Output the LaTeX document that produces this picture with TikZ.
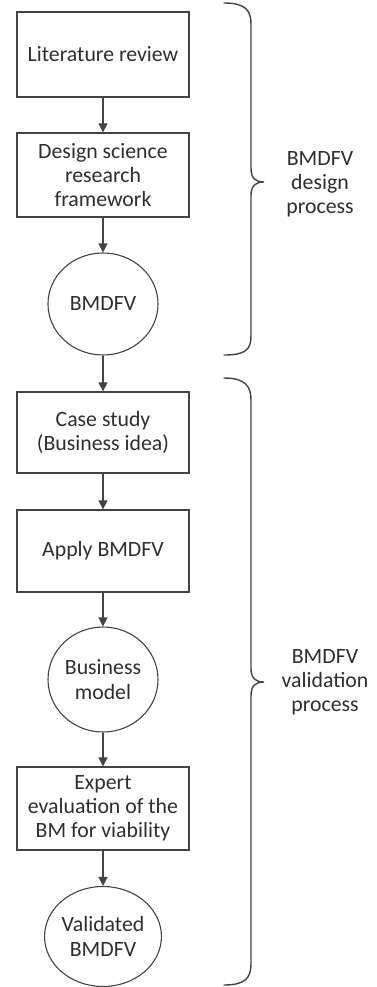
\documentclass[tikz,border=0pt]{standalone}
\usepackage{fontspec}
\setmainfont{Carlito}
\usetikzlibrary{arrows.meta,shapes.geometric}
\definecolor{linegray}{HTML}{434343}
\definecolor{textgray}{HTML}{2E2E2E}
\begin{document}
\begin{tikzpicture}[x=1pt,y=-1pt,
  every node/.style={font=\fontsize{21.8}{24.2}\selectfont, text=textgray, align=center},
  stepbox/.style={draw=linegray, line width=1.3pt, rectangle, minimum width=172pt, inner sep=0pt},
  result/.style={draw=linegray, line width=1.1pt, ellipse, inner sep=0pt},
  arr/.style={draw=linegray, line width=1.2pt, -{Triangle[width=9pt,length=9pt]}},
  brace/.style={draw=linegray, line width=1.4pt, line cap=round}]
  \useasboundingbox (0,0) rectangle (376,987);

  % flow nodes
  \node[stepbox, minimum height=85pt] (lit) at (103,54.5) {Literature review};
  \node[stepbox, minimum height=84pt] (dsr) at (103,175) {Design science\\research\\framework};
  \node[result, minimum width=110pt, minimum height=102pt] (bm1) at (103,304) {BMDFV};
  \node[stepbox, minimum height=81pt] (cs) at (103,432.5) {Case study\\(Business idea)};
  \node[stepbox, minimum height=82pt] (apply) at (103,551) {Apply BMDFV};
  \node[result, minimum width=110pt, minimum height=105pt] (bm2) at (103,679.5) {Business\\model};
  \node[stepbox, minimum height=83pt] (exp) at (103,808.5) {Expert\\evaluation of the\\BM for viability};
  \node[result, minimum width=109pt, minimum height=100pt] (val) at (103,936.5) {Validated\\BMDFV};

  % connectors
  \draw[arr] (lit) -- (dsr);
  \draw[arr] (dsr) -- (bm1);
  \draw[arr] (bm1) -- (cs);
  \draw[arr] (cs) -- (apply);
  \draw[arr] (apply) -- (bm2);
  \draw[arr] (bm2) -- (exp);
  \draw[arr] (exp) -- (val);

  % braces
  \draw[brace] (224,3) .. controls (245,3) and (251,10) .. (251,24) -- (251,168)
    .. controls (251,178) and (255,182) .. (264,182)
    .. controls (255,182) and (251,186) .. (251,196) -- (251,336)
    .. controls (251,350) and (245,355) .. (224,355);
  \draw[brace] (224,378) .. controls (245,378) and (251,386) .. (251,400) -- (251,668)
    .. controls (251,678) and (255,682) .. (264,682)
    .. controls (255,682) and (251,686) .. (251,696) -- (251,964)
    .. controls (251,978) and (245,985) .. (224,985);

  % brace labels
  \node (design) at (320,184) {BMDFV\\design\\process};
  \node (valid) at (325,682) {BMDFV\\validation\\process};
\end{tikzpicture}
\end{document}
